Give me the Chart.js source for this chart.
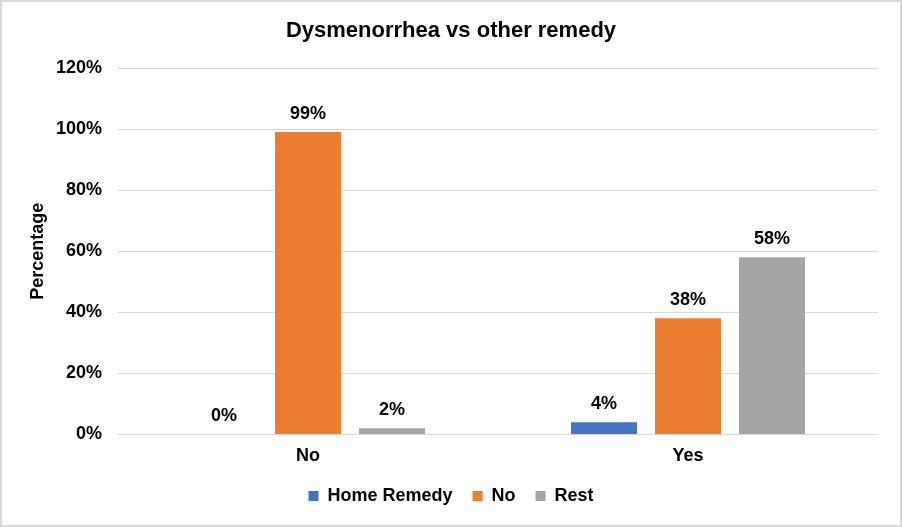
<!DOCTYPE html>
<html>
<head>
<meta charset="utf-8">
<script src="https://cdn.jsdelivr.net/npm/chart.js@4/dist/chart.umd.min.js"></script>
<style>
  body { margin: 0; background: #fff; }
  canvas { display: block; }
</style>
</head>
<body>
<canvas id="chart" width="902" height="527"></canvas>
<script>
// Chart data
const categories = ['No', 'Yes'];
const homeRemedy = [0, 4];
const noRemedy = [99, 38];
const rest = [2, 58];
const yTicks = [0, 20, 40, 60, 80, 100, 120];

const FONT = "'Liberation Sans', Arial, sans-serif";

// White background and thin grey frame round the whole picture
const framePlugin = {
  id: 'frame',
  beforeDraw: (chart) => {
    const ctx = chart.ctx;
    ctx.save();
    ctx.fillStyle = '#ffffff';
    ctx.fillRect(0, 0, chart.width, chart.height);
    ctx.strokeStyle = '#d9d9d9';
    ctx.lineWidth = 2;
    ctx.strokeRect(1, 1, chart.width - 2, chart.height - 2);
    ctx.restore();
  },
};

// Percentage labels above each bar
const valueLabels = {
  id: 'valueLabels',
  afterDatasetsDraw: (chart) => {
    const ctx = chart.ctx;
    ctx.save();
    ctx.font = 'bold 18px ' + FONT;
    ctx.fillStyle = '#000';
    ctx.textAlign = 'center';
    ctx.textBaseline = 'middle';
    chart.data.datasets.forEach((ds, i) => {
      chart.getDatasetMeta(i).data.forEach((bar, j) => {
        ctx.fillText(ds.data[j] + '%', bar.x, bar.y - 18);
      });
    });
    ctx.restore();
  },
};

new Chart(document.getElementById('chart'), {
  type: 'bar',
  data: {
    labels: categories,
    datasets: [
      { label: 'Home Remedy', data: homeRemedy, backgroundColor: '#4472c4' },
      { label: 'No', data: noRemedy, backgroundColor: '#ed7d31' },
      { label: 'Rest', data: rest, backgroundColor: '#a5a5a5' },
    ],
  },
  options: {
    responsive: false,
    animation: false,
    categoryPercentage: 0.663,
    barPercentage: 0.786,
    layout: { padding: { left: 0, right: 0, top: 0, bottom: 12 } },
    plugins: {
      title: {
        display: true,
        text: 'Dysmenorrhea vs other remedy',
        color: '#000',
        font: { family: FONT, size: 22, weight: 'bold' },
        padding: { top: 18, bottom: 23.6 },
      },
      legend: {
        position: 'bottom',
        labels: {
          color: '#000',
          font: { family: FONT, size: 18, weight: 'bold' },
          boxWidth: 10,
          boxHeight: 10,
          padding: 20,
        },
      },
      tooltip: { enabled: false },
    },
    scales: {
      x: {
        afterFit: (scale) => { scale.height -= 11; },
        grid: { display: false, drawTicks: false },
        border: { display: false },
        ticks: { color: '#000', font: { family: FONT, size: 18, weight: 'bold' }, padding: 11 },
      },
      y: {
        min: 0,
        max: 120,
        afterFit: (scale) => { scale.width = 118; },
        afterBuildTicks: (scale) => { scale.ticks = yTicks.map((v) => ({ value: v })); },
        grid: { color: '#d9d9d9', drawTicks: false },
        border: { display: false },
        ticks: {
          color: '#000',
          font: { family: FONT, size: 18, weight: 'bold' },
          padding: 16,
          callback: (v) => v + '%',
        },
        title: {
          display: true,
          text: 'Percentage',
          color: '#000',
          font: { family: FONT, size: 18, weight: 'bold' },
          padding: { top: 27, bottom: 0 },
        },
      },
      // empty right axis, only keeps the right margin so title and legend centre on the page
      yRight: {
        position: 'right',
        min: 0,
        max: 120,
        afterFit: (scale) => { scale.width = 24; },
        grid: { display: false },
        border: { display: false },
        ticks: { display: false },
      },
    },
  },
  plugins: [framePlugin, valueLabels],
});
</script>
</body>
</html>
